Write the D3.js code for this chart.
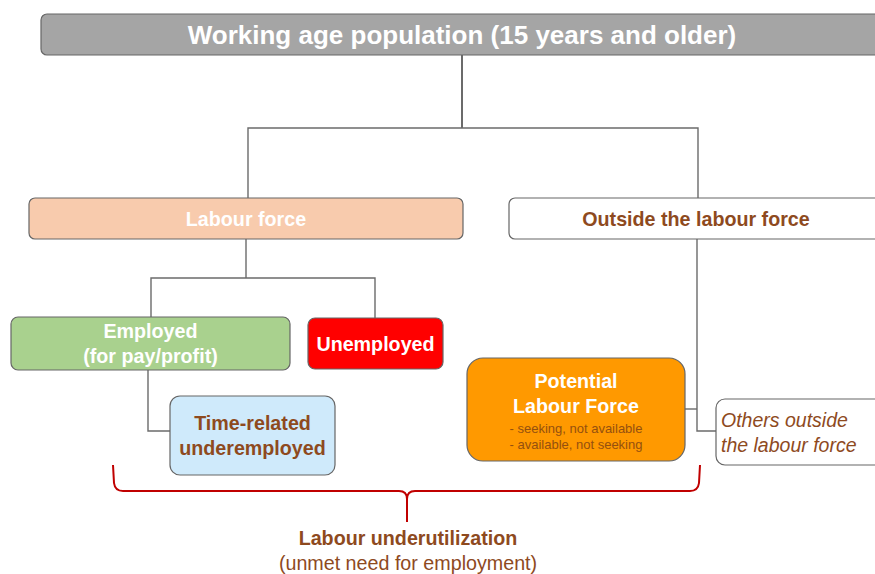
<!DOCTYPE html>
<html>
<head>
<meta charset="utf-8">
<script src="https://cdn.jsdelivr.net/npm/d3@7"></script>
<style>
  body { margin: 0; background: #fff; }
  svg { display: block; font-family: "Liberation Sans", Arial, sans-serif; }
</style>
</head>
<body>
<svg id="chart" width="875" height="574"></svg>
<script>
// Labels for each box (lines of text)
var boxIds = ["wap", "lf", "olf", "emp", "unemp", "tru", "plf", "others"];
var boxLines = [
  ["Working age population (15 years and older)"],
  ["Labour force"],
  ["Outside the labour force"],
  ["Employed", "(for pay/profit)"],
  ["Unemployed"],
  ["Time-related", "underemployed"],
  ["Potential", "Labour Force"],
  ["Others outside", "the labour force"]
];
var plfNotes = ["- seeking, not available", "- available, not seeking"];
var bracketLabel = ["Labour underutilization", "(unmet need for employment)"];

// Colours
var brown = "#8e4a1e";
var fills = { wap: "#a5a5a5", lf: "#f8cbad", olf: "#ffffff", emp: "#a9d18e",
              unemp: "#ff0000", tru: "#cfeafb", plf: "#ff9900", others: "#ffffff" };
var textCol = { wap: "#fff", lf: "#fff", olf: brown, emp: "#fff",
                unemp: "#fff", tru: brown, plf: "#fff", others: brown };

// Layout (pixel boxes)
var layout = {
  wap:    { x: 41,  y: 14,  w: 860, h: 41, r: 6, fs: 26, cx: 462 },
  lf:     { x: 29,  y: 198, w: 434, h: 41, r: 6, fs: 19.7 },
  olf:    { x: 509, y: 198, w: 400, h: 41, r: 6, fs: 19.7, cx: 696 },
  emp:    { x: 11,  y: 317, w: 279, h: 53, r: 7, fs: 19.7 },
  unemp:  { x: 308, y: 318, w: 135, h: 51, r: 7, fs: 19.7 },
  tru:    { x: 170, y: 396, w: 165, h: 79, r: 10, fs: 19.7 },
  plf:    { x: 467, y: 358, w: 218, h: 103, r: 16, fs: 19.7 },
  others: { x: 716, y: 399, w: 200, h: 66, r: 9, fs: 19.5, left: 721, italic: true }
};

var svg = d3.select("#chart");

// Connectors
var links = [
  [[462, 55], [462, 128]],
  [[248, 198], [248, 128], [698, 128], [698, 198]],
  [[246, 239], [246, 278]],
  [[151, 317], [151, 278], [375, 278], [375, 318]],
  [[148, 370], [148, 431], [170, 431]],
  [[697, 239], [697, 431], [716, 431]],
  [[685, 409], [697, 409]]
];
var line = d3.line();
svg.selectAll("path.link").data(links).enter().append("path")
  .attr("class", "link")
  .attr("d", line)
  .attr("fill", "none")
  .attr("stroke", "#6b6b6b")
  .attr("stroke-width", function(d, i) { return i == 0 ? 2 : 1.4; });

// Boxes
var g = svg.selectAll("g.box").data(boxIds).enter().append("g").attr("class", "box");
g.append("rect")
  .attr("x", function(d) { return layout[d].x; })
  .attr("y", function(d) { return layout[d].y; })
  .attr("width", function(d) { return layout[d].w; })
  .attr("height", function(d) { return layout[d].h; })
  .attr("rx", function(d) { return layout[d].r; })
  .attr("fill", function(d) { return fills[d]; })
  .attr("stroke", "#666")
  .attr("stroke-width", 1.2);

g.each(function(id, i) {
  var L = layout[id];
  var lines = boxLines[i];
  var lh = 25;
  var cy = L.y + L.h / 2;
  if (id == "plf") cy = L.y + 35;
  var y0 = cy - (lines.length - 1) * lh / 2;
  d3.select(this).selectAll("text").data(lines).enter().append("text")
    .attr("x", L.left ? L.left : (L.cx ? L.cx : L.x + L.w / 2))
    .attr("y", function(d, j) { return y0 + j * lh; })
    .attr("dy", "0.36em")
    .attr("text-anchor", L.left ? "start" : "middle")
    .attr("font-size", L.fs + "px")
    .attr("font-weight", L.italic ? "normal" : "bold")
    .attr("font-style", L.italic ? "italic" : "normal")
    .attr("fill", textCol[id])
    .text(function(d) { return d; });
});

// Notes inside potential labour force
svg.selectAll("text.note").data(plfNotes).enter().append("text")
  .attr("class", "note")
  .attr("x", 576)
  .attr("y", function(d, i) { return 428 + i * 16; })
  .attr("dy", "0.36em")
  .attr("text-anchor", "middle")
  .attr("font-size", "13px")
  .attr("fill", "#94500f")
  .text(function(d) { return d; });

// Curly bracket
var bx0 = 113, bx1 = 700, bmid = 407, btop = 465, by = 491, btip = 522, c = 8;
var brace = d3.path();
brace.moveTo(bx0, btop);
brace.lineTo(bx0 + 1, by - c);
brace.quadraticCurveTo(bx0 + 2, by, bx0 + c + 2, by);
brace.lineTo(bmid - c, by);
brace.quadraticCurveTo(bmid, by, bmid, by + c);
brace.lineTo(bmid, btip);
brace.moveTo(bmid, by + c);
brace.quadraticCurveTo(bmid, by, bmid + c, by);
brace.lineTo(bx1 - c - 2, by);
brace.quadraticCurveTo(bx1 - 2, by, bx1 - 1, by - c);
brace.lineTo(bx1, btop);
svg.append("path")
  .attr("d", brace.toString())
  .attr("fill", "none")
  .attr("stroke", "#c00000")
  .attr("stroke-width", 2);

svg.selectAll("text.blabel").data(bracketLabel).enter().append("text")
  .attr("class", "blabel")
  .attr("x", 408)
  .attr("y", function(d, i) { return 538 + i * 25; })
  .attr("dy", "0.36em")
  .attr("text-anchor", "middle")
  .attr("font-size", "19.7px")
  .attr("font-weight", function(d, i) { return i == 0 ? "bold" : "normal"; })
  .attr("fill", brown)
  .text(function(d) { return d; });
</script>
</body>
</html>
